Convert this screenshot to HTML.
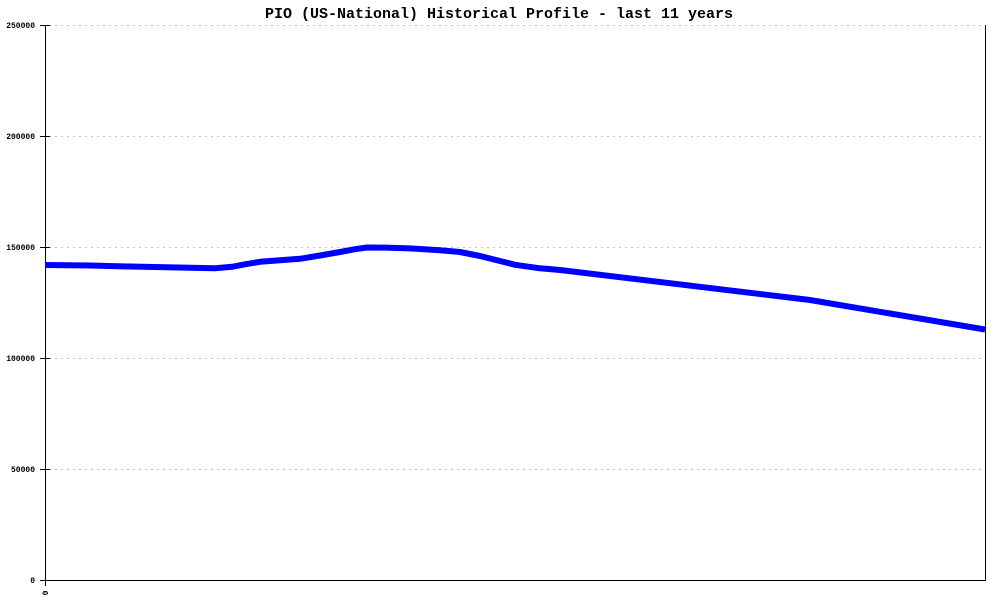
<!DOCTYPE html>
<html>
<head>
<meta charset="utf-8">
<style>
  html, body { margin: 0; padding: 0; background: #ffffff; }
  svg { display: block; }
</style>
</head>
<body>
<svg width="1000" height="600" viewBox="0 0 1000 600" xmlns="http://www.w3.org/2000/svg">
  <rect x="0" y="0" width="1000" height="600" fill="#ffffff"/>
  <!-- title -->
  <text x="265" y="18" font-family="Liberation Mono, monospace" font-size="15" font-weight="bold" fill="#000" textLength="468" lengthAdjust="spacingAndGlyphs">PIO (US-National) Historical Profile - last 11 years</text>

  <!-- grid lines -->
  <g stroke="#c0c0c0" stroke-width="1" stroke-dasharray="2 4" shape-rendering="crispEdges">
    <line x1="49" y1="25.5" x2="985" y2="25.5"/>
    <line x1="49" y1="136.5" x2="985" y2="136.5"/>
    <line x1="49" y1="247.5" x2="985" y2="247.5"/>
    <line x1="49" y1="358.5" x2="985" y2="358.5"/>
    <line x1="49" y1="469.5" x2="985" y2="469.5"/>
  </g>

  <!-- axes -->
  <g stroke="#000" stroke-width="1" shape-rendering="crispEdges">
    <line x1="45.5" y1="25" x2="45.5" y2="581"/>
    <line x1="985.5" y1="25" x2="985.5" y2="581"/>
    <line x1="45" y1="580.5" x2="986" y2="580.5"/>
    <!-- y ticks -->
    <line x1="40" y1="25.5" x2="50" y2="25.5"/>
    <line x1="40" y1="136.5" x2="50" y2="136.5"/>
    <line x1="40" y1="247.5" x2="50" y2="247.5"/>
    <line x1="40" y1="358.5" x2="50" y2="358.5"/>
    <line x1="40" y1="469.5" x2="50" y2="469.5"/>
    <line x1="40" y1="580.5" x2="50" y2="580.5"/>
    <!-- x tick -->
    <line x1="45.5" y1="580" x2="45.5" y2="586"/>
  </g>

  <!-- y labels -->
  <g font-family="Liberation Mono, monospace" font-size="8" font-weight="bold" fill="#000" text-anchor="end">
    <text x="35" y="28">250000</text>
    <text x="35" y="139">200000</text>
    <text x="35" y="250">150000</text>
    <text x="35" y="361">100000</text>
    <text x="35" y="472">50000</text>
    <text x="35" y="583">0</text>
  </g>
  <!-- x label -->
  <text x="0" y="0" font-family="Liberation Mono, monospace" font-size="8" font-weight="bold" fill="#000" text-anchor="middle" transform="translate(48,593) rotate(-90)">0</text>

  <!-- data line -->
  <polyline fill="none" stroke="#0000ff" stroke-width="6" stroke-linejoin="round" stroke-linecap="butt"
    points="45,265 90,265.5 130,266.5 190,267.8 215,268.3 232,266.8 245,264.3 260,261.8 280,260.3 300,258.8 320,255.5 340,252 355,249.2 367,247.5 385,247.6 410,248.4 440,250.3 460,252 480,256 500,261 515,264.8 540,268.3 560,270 810,300 985,329.5"/>
</svg>
</body>
</html>
